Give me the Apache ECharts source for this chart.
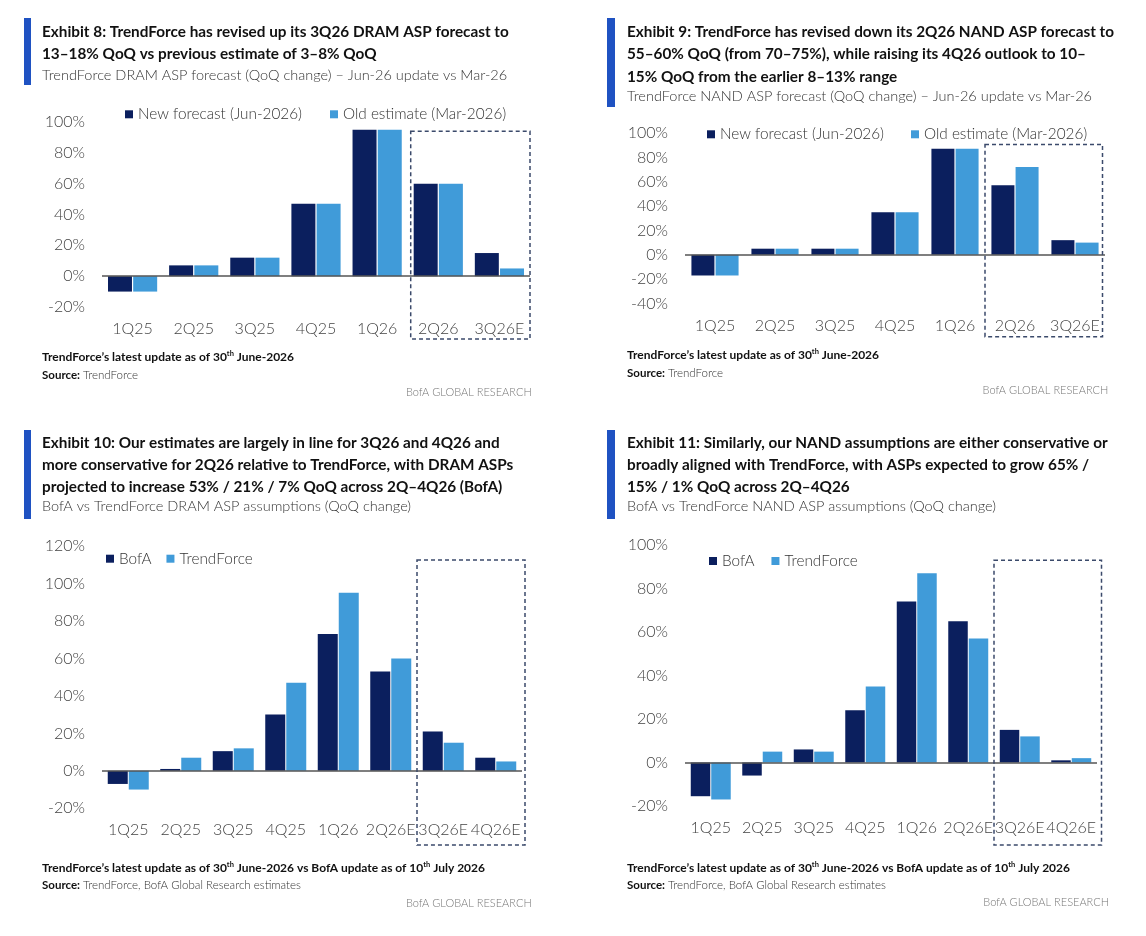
<!DOCTYPE html>
<html><head><meta charset="utf-8">
<script src="https://cdn.jsdelivr.net/npm/echarts@6/dist/echarts.min.js"></script>
<style>html,body{margin:0;padding:0;background:#fff}#c{width:1146px;height:936px}</style>
</head><body><div id="c"></div>
<script>
// ---------- DATA ----------
const quarters7 = ['1Q25','2Q25','3Q25','4Q25','1Q26','2Q26','3Q26E'];
const quarters8 = ['1Q25','2Q25','3Q25','4Q25','1Q26','2Q26E','3Q26E','4Q26E'];
const dramNew = [-10, 7, 12, 47, 95, 60, 15];
const dramOld = [-10, 7, 12, 47, 95, 60, 5];
const nandNew = [-17, 5, 5, 35, 87, 57, 12];
const nandOld = [-17, 5, 5, 35, 87, 72, 10];
const dramBofA = [-7, 1, 10.5, 30, 73, 53, 21, 7];
const dramTF   = [-10, 7, 12, 47, 95, 60, 15, 5];
const nandBofA = [-15.5, -6, 6, 24, 74, 65, 15, 1];
const nandTF   = [-17, 5, 5, 35, 87, 57, 12, 2];
const yRange8  = [-20, 100];
const yRange9  = [-40, 100];
const yRange10 = [-20, 120];
const yRange11 = [-20, 100];
const namesRevision = ['New forecast (Jun-2026)', 'Old estimate (Mar-2026)'];
const namesCompare  = ['BofA', 'TrendForce'];

const titles8  = ['Exhibit 8: TrendForce has revised up its 3Q26 DRAM ASP forecast to', '13\u201318% QoQ vs previous estimate of 3\u20138% QoQ'];
const sub8     = 'TrendForce DRAM ASP forecast (QoQ change) \u2013 Jun-26 update vs Mar-26';
const titles9  = ['Exhibit 9: TrendForce has revised down its 2Q26 NAND ASP forecast to', '55\u201360% QoQ (from 70\u201375%), while raising its 4Q26 outlook to 10\u2013', '15% QoQ from the earlier 8\u201313% range'];
const sub9     = 'TrendForce NAND ASP forecast (QoQ change) \u2013 Jun-26 update vs Mar-26';
const titles10 = ['Exhibit 10: Our estimates are largely in line for 3Q26 and 4Q26 and', 'more conservative for 2Q26 relative to TrendForce, with DRAM ASPs', 'projected to increase 53% / 21% / 7% QoQ across 2Q\u20134Q26 (BofA)'];
const sub10    = 'BofA vs TrendForce DRAM ASP assumptions (QoQ change)';
const titles11 = ['Exhibit 11: Similarly, our NAND assumptions are either conservative or', 'broadly aligned with TrendForce, with ASPs expected to grow 65% /', '15% / 1% QoQ across 2Q\u20134Q26'];
const sub11    = 'BofA vs TrendForce NAND ASP assumptions (QoQ change)';
const note1 = ['TrendForce\u2019s latest update as of 30', 'th', ' June-2026'];
const note2 = ['TrendForce\u2019s latest update as of 30', 'th', ' June-2026 vs BofA update as of 10', 'th', ' July 2026'];
const source1 = 'TrendForce';
const source2 = 'TrendForce, BofA Global Research estimates';
const brand = 'BofA GLOBAL RESEARCH';

// ---------- STYLE / LAYOUT ----------
const NAVY = '#0b1f5e', LIGHT = '#409bd9', SIDE = '#1f52c2';
const FF = 'Lato';
const panels = [
  {cats: quarters7, names: namesRevision, data: [dramNew, dramOld], yr: yRange8,
   grid: {left: 102, top: 122, width: 428, height: 185}, bw: 24,
   legend: {left: 125, top: 106.8, itemGap: 28}, boxFrom: 5, boxTop: 94, boxBottom: 339, boxRightPad: 0, boxLeftPad: 3,
   titles: titles8, sub: sub8, tx: 42, side: [24, 18, 7, 67], ty: [31.7, 54], suby: 75,
   note: note1, source: source1, fy: [356.7, 375], brandX: 531.7, brandY: 392.7},
  {cats: quarters7, names: namesRevision, data: [nandNew, nandOld], yr: yRange9,
   grid: {left: 685, top: 133, width: 420, height: 170.5}, bw: 23,
   legend: {left: 707, top: 126.8, itemGap: 27}, boxFrom: 5, boxTop: 90.5, boxBottom: 336.7, boxRightPad: -2.5, boxLeftPad: 0,
   titles: titles9, sub: sub9, tx: 627, side: [607, 18, 8, 89], ty: [31.7, 54.3, 76.7], suby: 96.7,
   note: note1, source: source1, fy: [355, 373.3], brandX: 1108.3, brandY: 390},
  {cats: quarters8, names: namesCompare, data: [dramBofA, dramTF], yr: yRange10,
   grid: {left: 102, top: 546, width: 420, height: 262.3}, bw: 20,
   legend: {left: 106, top: 551.2, itemGap: 15}, boxFrom: 6, boxTop: 112.5, boxBottom: 845, boxRightPad: 3, boxLeftPad: 0,
   titles: titles10, sub: sub10, tx: 42, side: [24, 430, 7, 89], ty: [443.3, 465, 486.7], suby: 506,
   note: note2, source: source2, fy: [867.7, 885.7], brandX: 531.7, brandY: 903.3},
  {cats: quarters8, names: namesCompare, data: [nandBofA, nandTF], yr: yRange11,
   grid: {left: 685, top: 545, width: 412, height: 261}, bw: 19.5,
   legend: {left: 709, top: 553.5, itemGap: 17}, boxFrom: 6, boxTop: 93, boxBottom: 845, boxRightPad: 4.5, boxLeftPad: 0,
   titles: titles11, sub: sub11, tx: 627, side: [607, 430, 8, 89], ty: [443.3, 465, 486.7], suby: 506,
   note: note2, source: source2, fy: [867.7, 885.7], brandX: 1109, brandY: 902.7}
];

const chart = echarts.init(document.getElementById('c'), null, {renderer: 'canvas', width: 1146, height: 936});

const option = {
  animation: false,
  backgroundColor: '#ffffff',
  grid: [], xAxis: [], yAxis: [], series: [], legend: []
};
panels.forEach((p, i) => {
  option.grid.push(Object.assign({containLabel: false}, p.grid));
  option.xAxis.push({
    type: 'category', gridIndex: i, data: p.cats,
    axisLine: {show: false, onZero: false}, axisTick: {show: false},
    axisLabel: {interval: 0, margin: 14, color: '#444', fontFamily: FF, fontWeight: 300, fontSize: 16}
  });
  option.yAxis.push({
    type: 'value', gridIndex: i, min: p.yr[0], max: p.yr[1], interval: 20,
    axisLine: {show: false}, axisTick: {show: false}, splitLine: {show: false},
    axisLabel: {margin: 17, color: '#444', fontFamily: FF, fontWeight: 300, fontSize: 16, formatter: '{value}%'}
  });
  p.names.forEach((nm, k) => {
    const s = {
      type: 'bar', name: nm, xAxisIndex: i, yAxisIndex: i, data: p.data[k],
      barWidth: p.bw, barGap: '5%', itemStyle: {color: k === 0 ? NAVY : LIGHT},
      silent: true
    };
    if (k === 0) {
      s.markLine = {silent: true, symbol: 'none', label: {show: false},
        lineStyle: {color: '#555', width: 1.6, type: 'solid'}, data: [{yAxis: 0}]};
    }
    option.series.push(s);
  });
  option.legend.push(Object.assign({
    data: p.names, icon: 'rect', itemWidth: 8, itemHeight: 8, selectedMode: false, padding: 0,
    textStyle: {color: '#333', fontFamily: FF, fontWeight: 300, fontSize: 15.3}
  }, p.legend));
});
chart.setOption(option);

// ---------- graphics: titles, footers, dashed boxes ----------
const g = [];
function txt(x, y, text, font, fill, align) {
  g.push({type: 'text', x: x, y: y, silent: true,
    style: {text: text, font: font, fill: fill, align: align || 'left', verticalAlign: 'middle'}});
}
panels.forEach((p, i) => {
  g.push({type: 'rect', silent: true, shape: {x: p.side[0], y: p.side[1], width: p.side[2], height: p.side[3]}, style: {fill: SIDE}});
  p.titles.forEach((t, j) => txt(p.tx, p.ty[j], t, 'bold 15.3px ' + FF, '#111'));
  txt(p.tx, p.suby, p.sub, '300 14.5px ' + FF, '#333');
  let rt = '';
  p.note.forEach((seg, j) => { rt += (j % 2 === 1 ? '{s|' : '{b|') + seg + '}'; });
  g.push({type: 'text', x: p.tx, y: p.fy[0], silent: true,
    style: {text: rt, verticalAlign: 'middle', fill: '#111', font: 'bold 12px ' + FF,
      rich: {b: {fontFamily: FF, fontWeight: 'bold', fontSize: 12, fill: '#111', lineHeight: 15},
             s: {fontFamily: FF, fontWeight: 'bold', fontSize: 7.5, fill: '#111', verticalAlign: 'top', lineHeight: 15, padding: [0, 0, 5, 0]}}}});
  g.push({type: 'text', x: p.tx, y: p.fy[1], silent: true,
    style: {text: '{b|Source:} {r|' + p.source + '}', verticalAlign: 'middle', fill: '#111', font: '11.5px ' + FF,
      rich: {b: {fontFamily: FF, fontWeight: 'bold', fontSize: 11.5, fill: '#111'},
             r: {fontFamily: FF, fontWeight: 300, fontSize: 11.5, fill: '#333'}}}});
  txt(p.brandX, p.brandY, brand, '300 11px ' + FF, '#777', 'right');
  const c0 = chart.convertToPixel({gridIndex: i}, [0, 0]);
  const c1 = chart.convertToPixel({gridIndex: i}, [1, 0]);
  const cw = c1[0] - c0[0];
  const from = chart.convertToPixel({gridIndex: i}, [p.boxFrom, p.boxTop]);
  const lastC = chart.convertToPixel({gridIndex: i}, [p.cats.length - 1, 0]);
  const x0 = from[0] - cw / 2 + p.boxLeftPad, x1 = lastC[0] + cw / 2 + p.boxRightPad;
  const y0 = from[1], y1 = p.boxBottom;
  g.push({type: 'rect', silent: true, z: 100, shape: {x: x0, y: y0, width: x1 - x0, height: y1 - y0},
    style: {fill: 'none', stroke: '#3b4a6b', lineWidth: 1.5, lineDash: [4, 3]}});
});
chart.setOption({graphic: g});
</script></body></html>
